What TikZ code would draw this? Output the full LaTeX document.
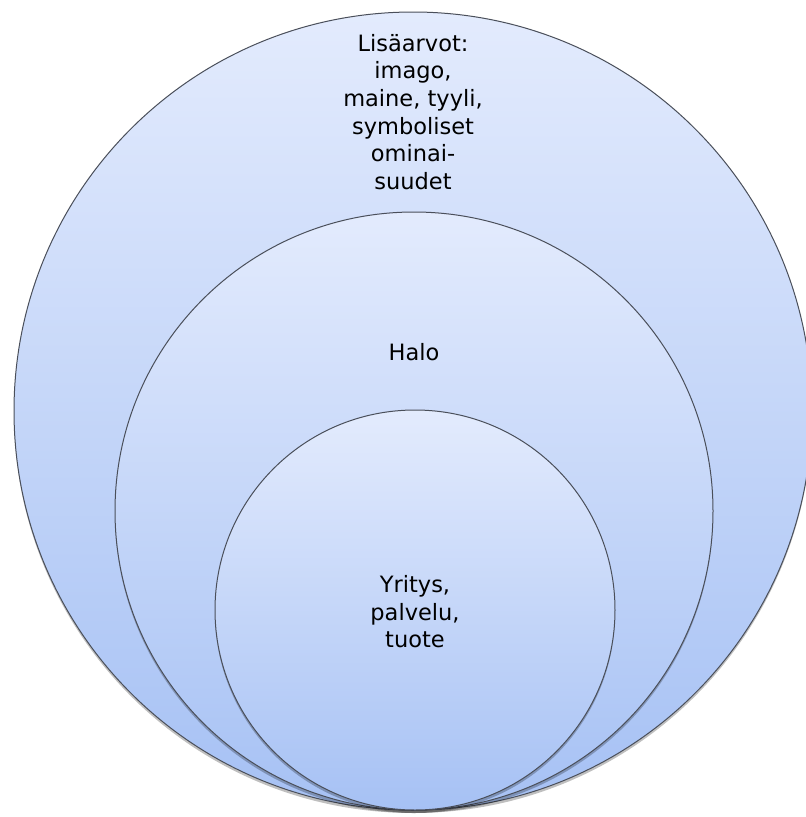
\documentclass[tikz,border=0pt]{standalone}
\usepackage{fontspec}
\setmainfont{DejaVu Sans}
\usepackage{xcolor}
\definecolor{ringtop}{HTML}{E3EBFD}
\definecolor{ringbottom}{HTML}{A6C1F4}
\definecolor{ringline}{HTML}{4A4F5A}

\begin{document}
\begin{tikzpicture}[x=1pt, y=-1pt,
    ring/.style={draw=ringline, line width=1pt, top color=ringtop, bottom color=ringbottom},
    ringshadow/.style={fill=black, opacity=0.25},
    label/.style={align=center, font=\fontsize{22.5}{27.6}\selectfont, text=black}]
        % Fix the page size
        \useasboundingbox (0,0) rectangle (806,817);

        % Outer circle
        \fill[ringshadow] (413,414) circle (399);
        \draw[ring] (413,411) circle (399);
        \node[label] (extra) at (413,112) {Lisäarvot:\\imago,\\maine, tyyli,\\symboliset\\ominai-\\suudet};

        % Middle circle
        \fill[ringshadow] (414,514) circle (299);
        \draw[ring] (414,511) circle (299);
        \node[label] (halo) at (414,352) {Halo};

        % Inner circle
        \fill[ringshadow] (415,613) circle (200);
        \draw[ring] (415,610) circle (200);
        \node[label] (core) at (415,612) {Yritys,\\palvelu,\\tuote};
    \end{tikzpicture}
\end{document}
